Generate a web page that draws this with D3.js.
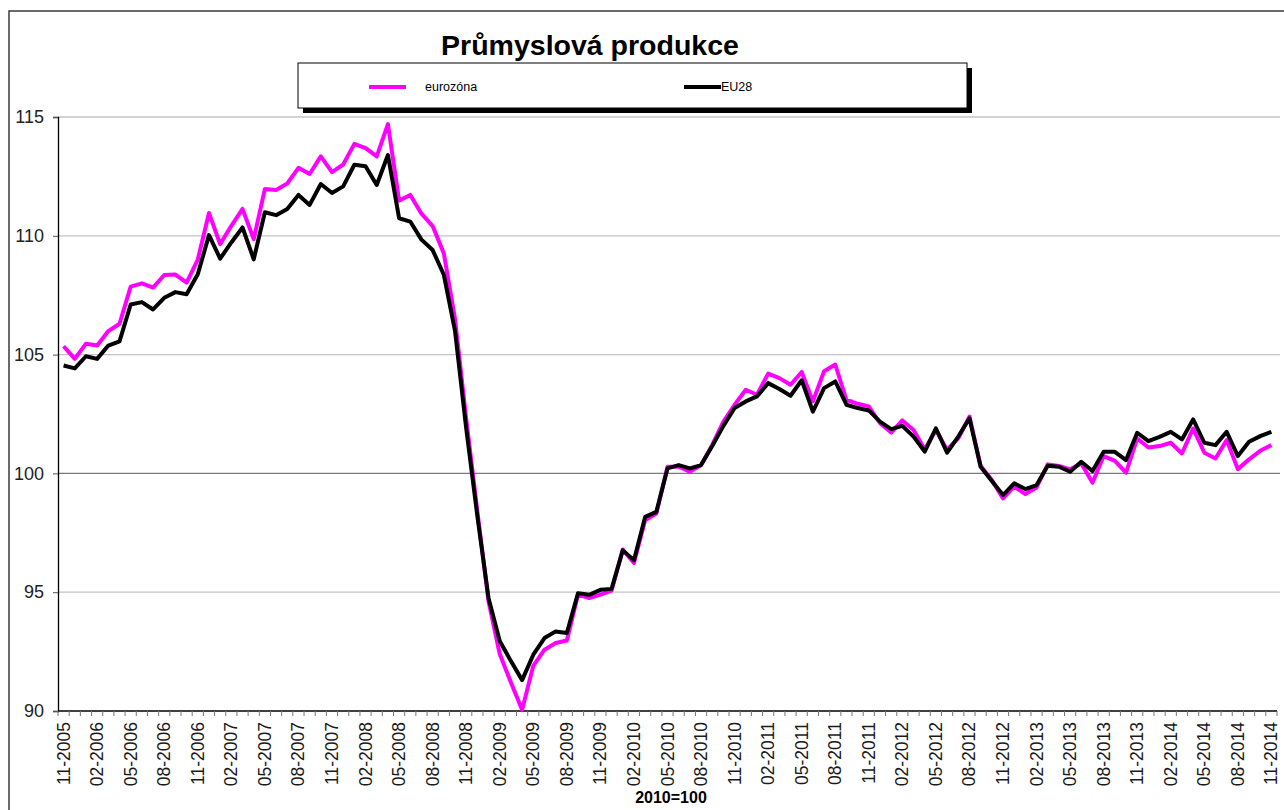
<!DOCTYPE html>
<html>
<head>
<meta charset="utf-8">
<script src="https://cdn.jsdelivr.net/npm/d3@7"></script>
<style>
  body { margin: 0; background: #fff; }
  text { font-family: Arial, "Liberation Sans", sans-serif; }
</style>
</head>
<body>
<div id="graph"></div>
<script>
// index 0 = 11-2005, last = 11-2014 (monthly)
var startMonth = 11, startYear = 2005, nMonths = 109;

var eurozona = [
  105.35, 104.82, 105.46, 105.38, 105.99, 106.3, 107.86, 108.0, 107.82, 108.35,
  108.37, 108.03, 109.0, 110.96, 109.65, 110.42, 111.13, 109.86, 111.97, 111.93,
  112.2, 112.86, 112.6, 113.34, 112.68, 113.0, 113.87, 113.69, 113.34, 114.7,
  111.48, 111.72, 110.93, 110.41, 109.26, 106.5, 102.3, 98.4, 94.6, 92.4,
  91.2, 90.05, 91.9, 92.58, 92.86, 92.97, 94.9, 94.75, 94.9, 95.07,
  96.8, 96.23, 98.03, 98.31, 100.28, 100.28, 100.07, 100.35, 101.2, 102.18,
  102.89, 103.52, 103.31, 104.2, 104.01, 103.73, 104.27, 103.03, 104.3, 104.58,
  103.1, 102.93, 102.82, 102.11, 101.72, 102.23, 101.83, 101.01, 101.83, 100.99,
  101.48, 102.39, 100.31, 99.72, 98.95, 99.44, 99.13, 99.41, 100.38, 100.31,
  100.17, 100.42, 99.61, 100.73, 100.53, 100.03, 101.47, 101.09, 101.15, 101.29,
  100.84, 101.89, 100.87, 100.63, 101.4, 100.18, 100.59, 100.95, 101.19
];

var eu28 = [
  104.54, 104.42, 104.93, 104.82, 105.38, 105.56, 107.11, 107.21, 106.9, 107.39,
  107.63, 107.54, 108.38, 110.03, 109.04, 109.72, 110.35, 109.01, 110.99, 110.87,
  111.13, 111.72, 111.3, 112.18, 111.8, 112.08, 112.99, 112.93, 112.14, 113.4,
  110.74, 110.6, 109.84, 109.4, 108.36, 106.0, 101.9, 98.2, 94.75, 92.95,
  92.1, 91.3, 92.37, 93.07, 93.35, 93.28, 94.96, 94.89, 95.1, 95.14,
  96.76, 96.34, 98.17, 98.38, 100.21, 100.35, 100.21, 100.35, 101.15, 102.0,
  102.75, 103.03, 103.24, 103.8, 103.55, 103.27, 103.92, 102.6, 103.59, 103.87,
  102.89, 102.75, 102.65, 102.18, 101.86, 102.0, 101.55, 100.92, 101.9, 100.87,
  101.55, 102.32, 100.28, 99.68, 99.09, 99.58, 99.34, 99.51, 100.32, 100.28,
  100.07, 100.49, 100.1, 100.91, 100.91, 100.56, 101.71, 101.36, 101.54, 101.75,
  101.43, 102.27, 101.29, 101.19, 101.75, 100.73, 101.33, 101.57, 101.75
];

var yTicks = [90, 95, 100, 105, 110, 115];
var seriesNames = ["eurozóna", "EU28"];
var seriesColors = ["#ff00ff", "#000000"];
var title = "Průmyslová produkce";
var xTitle = "2010=100";

// month labels "MM-YYYY"
var months = [];
for (var i = 0; i < nMonths; i++) {
  var m = (startMonth - 1 + i) % 12 + 1;
  var y = startYear + Math.floor((startMonth - 1 + i) / 12);
  months.push((m < 10 ? "0" + m : "" + m) + "-" + y);
}

var width = 1284, height = 810;
var plot = {left: 58, right: 1277, top: 117, bottom: 711};

var svg = d3.select('#graph')
  .append('svg')
  .attr('width', width)
  .attr('height', height);

// outer chart frame
svg.append('rect')
  .attr('x', 9).attr('y', 11)
  .attr('width', width + 20).attr('height', height + 20)
  .attr('fill', 'none')
  .attr('stroke', '#3a3a3a')
  .attr('stroke-width', 1.5);

var x = d3.scaleBand().domain(months).range([plot.left, plot.right]);
var yScale = d3.scaleLinear().domain([90, 115]).range([plot.bottom, plot.top]);
var cx = function(d) { return x(d) + x.bandwidth() / 2; };

// gridlines
svg.append('g').attr('id', 'grid')
  .selectAll('line')
  .data(yTicks.filter(function(d) { return d > 90; }))
  .enter().append('line')
  .attr('x1', plot.left).attr('x2', plot.right + 3)
  .attr('y1', function(d) { return yScale(d); })
  .attr('y2', function(d) { return yScale(d); })
  .attr('stroke', function(d) { return d === 100 ? '#7a7a7a' : '#c4c4c4'; })
  .attr('stroke-width', 1.3);

// y axis
var yAxis = d3.axisLeft(yScale).tickValues(yTicks).tickSize(5).tickPadding(9);
var yAxisG = svg.append('g')
  .attr('transform', 'translate(' + plot.left + ',0)')
  .call(yAxis);
yAxisG.select('.domain').attr('stroke', '#000').attr('stroke-width', 1.3);
yAxisG.selectAll('.tick line').attr('stroke', '#555');
yAxisG.selectAll('.tick text')
  .attr('font-size', '18px')
  .attr('fill', '#222')
  .style('font-family', 'Arial, "Liberation Sans", sans-serif');

// x axis line + monthly ticks
svg.append('line')
  .attr('x1', plot.left).attr('x2', plot.right)
  .attr('y1', plot.bottom).attr('y2', plot.bottom)
  .attr('stroke', '#000').attr('stroke-width', 1.3);

var tickPos = months.map(function(d) { return x(d); }).concat([plot.right]);
svg.append('g').attr('id', 'xticks')
  .selectAll('line')
  .data(tickPos)
  .enter().append('line')
  .attr('x1', function(d) { return d; }).attr('x2', function(d) { return d; })
  .attr('y1', plot.bottom).attr('y2', plot.bottom + 5)
  .attr('stroke', '#777').attr('stroke-width', 1);

// x labels every 3 months, rotated
svg.append('g').attr('id', 'xlabels')
  .selectAll('text')
  .data(months.filter(function(d, i) { return i % 3 === 0; }))
  .enter().append('text')
  .attr('transform', function(d) { return 'translate(' + (cx(d) + 6) + ',' + (plot.bottom + 11) + ') rotate(-90)'; })
  .attr('text-anchor', 'end')
  .attr('font-size', '17.5px')
  .attr('fill', '#1a1a1a')
  .text(function(d) { return d; });

// series lines
var line = d3.line()
  .x(function(d, i) { return cx(months[i]); })
  .y(function(d) { return yScale(d); });

svg.append('g').attr('id', 'data')
  .selectAll('path')
  .data([eurozona, eu28])
  .enter().append('path')
  .attr('d', line)
  .attr('fill', 'none')
  .attr('stroke', function(d, i) { return seriesColors[i]; })
  .attr('stroke-width', 4)
  .attr('stroke-linejoin', 'round');

// title
svg.append('text')
  .attr('x', 590).attr('y', 55)
  .attr('text-anchor', 'middle')
  .attr('font-size', '28.5px')
  .attr('font-weight', 'bold')
  .text(title);

// legend box with shadow
var legend = svg.append('g').attr('id', 'legend');
legend.append('rect')
  .attr('x', 303).attr('y', 68).attr('width', 669).attr('height', 45)
  .attr('fill', '#000');
legend.append('rect')
  .attr('x', 298).attr('y', 63).attr('width', 669).attr('height', 45)
  .attr('fill', '#fff').attr('stroke', '#000').attr('stroke-width', 1);

var legendX = [369, 684];
var legendItems = legend.selectAll('g.item')
  .data(seriesNames)
  .enter().append('g').attr('class', 'item');
legendItems.append('line')
  .attr('x1', function(d, i) { return legendX[i]; })
  .attr('x2', function(d, i) { return legendX[i] + 37; })
  .attr('y1', 87).attr('y2', 87)
  .attr('stroke', function(d, i) { return seriesColors[i]; })
  .attr('stroke-width', 4);
legendItems.append('text')
  .attr('x', function(d, i) { return legendX[i] + (i === 0 ? 56 : 37); })
  .attr('y', 91)
  .attr('font-size', '12.5px')
  .text(function(d) { return d; });

// bottom caption
svg.append('text')
  .attr('x', 671).attr('y', 803)
  .attr('text-anchor', 'middle')
  .attr('font-size', '16px')
  .attr('font-weight', 'bold')
  .text(xTitle);
</script>
</body>
</html>
